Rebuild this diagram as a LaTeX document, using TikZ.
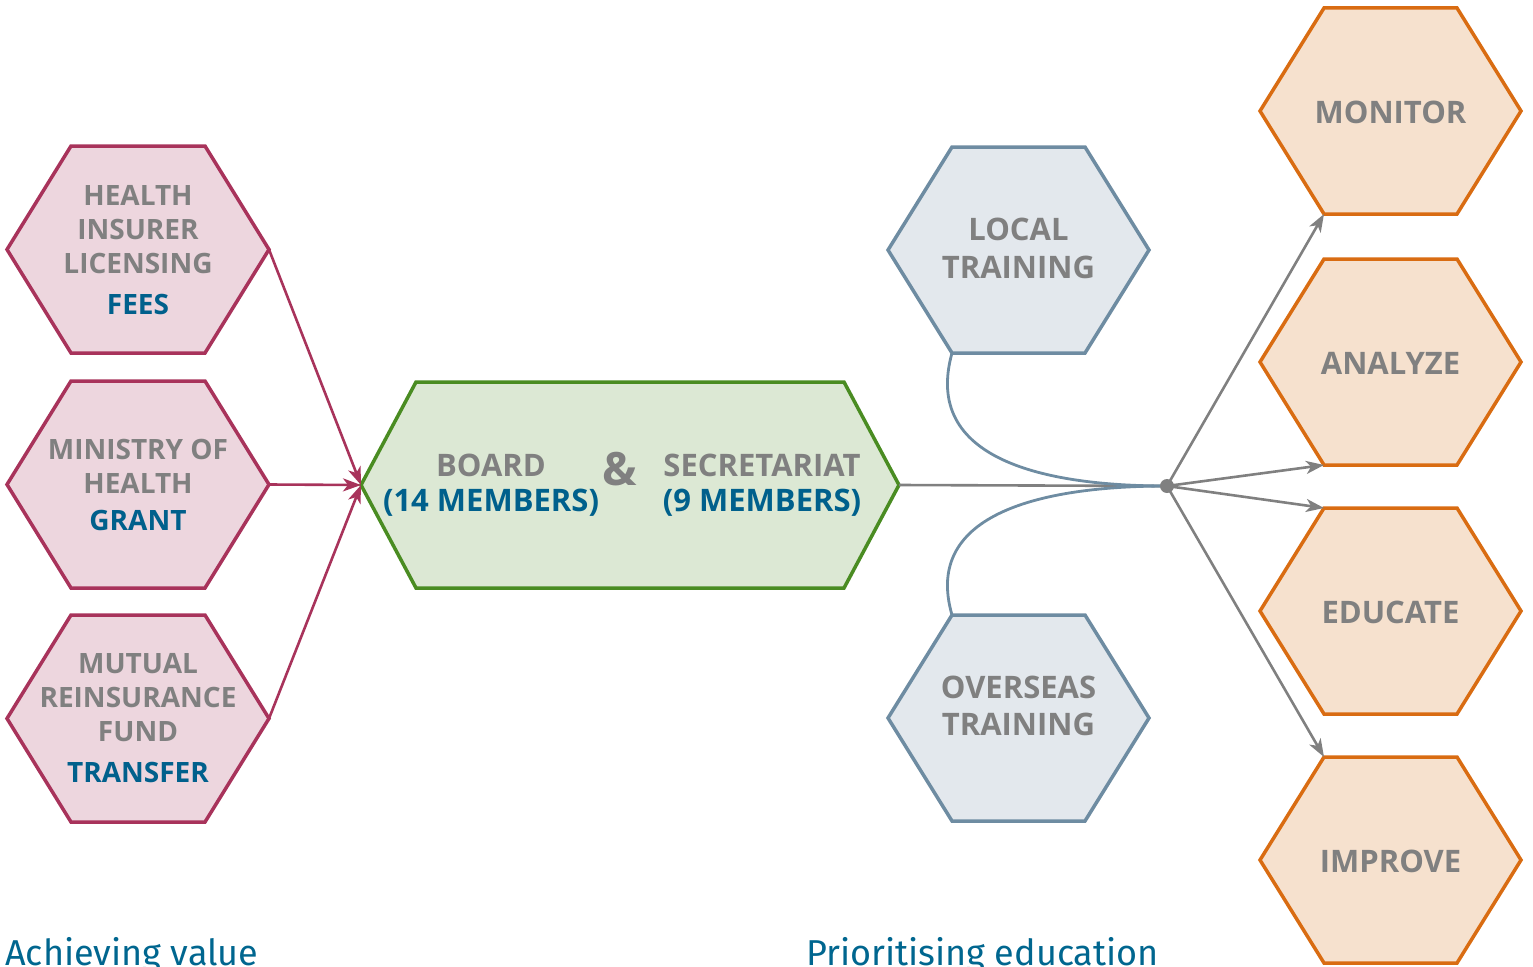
\documentclass[tikz,border=0pt]{standalone}
\usepackage{fontspec}
\setmainfont{Open Sans}
\newfontfamily\titlefont{Fira Sans}
\usetikzlibrary{arrows.meta}

\definecolor{pinkline}{HTML}{A8335B}
\definecolor{pinkfill}{HTML}{EDD6DE}
\definecolor{greenline}{HTML}{4A8C22}
\definecolor{greenfill}{HTML}{DCE8D4}
\definecolor{blueline}{HTML}{6E8CA2}
\definecolor{bluefill}{HTML}{E3E8ED}
\definecolor{orangeline}{HTML}{D96C12}
\definecolor{orangefill}{HTML}{F6E1CE}
\definecolor{txtgray}{HTML}{808080}
\definecolor{txtblue}{HTML}{00608C}
\definecolor{titleblue}{HTML}{00668F}
\definecolor{linkgray}{HTML}{808080}

% hexagon with pointed left/right ends: name, centre x, centre y,
% half width, corner offset, half height, style
\newcommand{\hexshape}[7]{%
  \coordinate (#1) at (#2,#3);
  \coordinate (#1-w)  at ({#2-#4},#3);
  \coordinate (#1-e)  at ({#2+#4},#3);
  \coordinate (#1-nw) at ({#2-#4+#5},{#3-#6});
  \coordinate (#1-ne) at ({#2+#4-#5},{#3-#6});
  \coordinate (#1-sw) at ({#2-#4+#5},{#3+#6});
  \coordinate (#1-se) at ({#2+#4-#5},{#3+#6});
  \draw[#7] (#1-w) -- (#1-nw) -- (#1-ne) -- (#1-e) -- (#1-se) -- (#1-sw) -- cycle;
}

\tikzset{
  x=1pt, y=-1pt,
  hexborder/.style={line width=3.5pt, line join=miter},
  pinkhex/.style={hexborder, draw=pinkline, fill=pinkfill},
  greenhex/.style={hexborder, draw=greenline, fill=greenfill},
  bluehex/.style={hexborder, draw=blueline, fill=bluefill},
  orangehex/.style={hexborder, draw=orangeline, fill=orangefill},
  small/.style={anchor=base, inner sep=0, text=txtgray, font=\bfseries\fontsize{28}{34}\selectfont},
  smallblue/.style={small, text=txtblue},
  mid/.style={anchor=base, inner sep=0, text=txtgray, font=\bfseries\fontsize{31}{37}\selectfont},
  midblue/.style={mid, text=txtblue},
  big/.style={anchor=base, inner sep=0, text=txtgray, font=\bfseries\fontsize{31}{37}\selectfont},
  tip/.style={-{Stealth[length=18pt,width=13pt,inset=5pt]}},
  feed/.style={draw=pinkline, line width=2.6pt, tip},
  spread/.style={draw=linkgray, line width=2.6pt, tip},
  trainlink/.style={draw=blueline, line width=2.8pt},
  headline/.style={anchor=base west, inner sep=0, text=titleblue, font=\titlefont\fontsize{36}{42}\selectfont},
}

\begin{document}
\begin{tikzpicture}
\useasboundingbox (0,0) rectangle (1533,966);

% funding sources
\hexshape{fees}{138}{249.5}{131}{64}{103.5}{pinkhex}
\hexshape{grant}{138}{484.5}{131}{64}{103.5}{pinkhex}
\hexshape{transfer}{138}{718.5}{131}{64}{103.5}{pinkhex}

% governing body
\hexshape{body}{630}{485}{269}{55}{103}{greenhex}

% training
\hexshape{local}{1018.5}{250}{130.5}{64}{103}{bluehex}
\hexshape{overseas}{1018.5}{718}{130.5}{64}{103}{bluehex}

% activities
\hexshape{monitor}{1390.5}{111}{130.5}{64}{103}{orangehex}
\hexshape{analyze}{1390.5}{362}{130.5}{64}{103}{orangehex}
\hexshape{educate}{1390.5}{611}{130.5}{64}{103}{orangehex}
\hexshape{improve}{1390.5}{860}{130.5}{64}{103}{orangehex}

% hub
\coordinate (hub) at (1167,486);

% links
\draw[feed] (fees-e) -- (body-w);
\draw[feed] (grant-e) -- (body-w);
\draw[feed] (transfer-e) -- (body-w);

\draw[draw=linkgray, line width=2.6pt] (body-e) -- (hub);
\draw[trainlink] (local-sw) .. controls (922,460) and (1045,486) .. (hub);
\draw[trainlink] (overseas-nw) .. controls (922,512) and (1045,486) .. (hub);

\draw[spread] (hub) -- (monitor-sw);
\draw[spread] (hub) -- (analyze-sw);
\draw[spread] (hub) -- (educate-nw);
\draw[spread] (hub) -- (improve-nw);

\node[circle, fill=linkgray, inner sep=0, minimum size=14pt] (hubdot) at (hub) {};

% texts
\node[small] (f1) at (138,205) {HEALTH};
\node[small] (f2) at (138,239) {INSURER};
\node[small] (f3) at (138,273) {LICENSING};
\node[smallblue] (f4) at (138,314) {FEES};

\node[small] (g1) at (138,459) {MINISTRY OF};
\node[small] (g2) at (138,493) {HEALTH};
\node[smallblue] (g3) at (138,530) {GRANT};

\node[small] (t1) at (138,673) {MUTUAL};
\node[small] (t2) at (138,707) {REINSURANCE};
\node[small] (t3) at (138,741) {FUND};
\node[smallblue] (t4) at (138,782) {TRANSFER};

\node[mid] (b1) at (491,476) {BOARD};
\node[midblue] (b2) at (491,511) {(14 MEMBERS)};
\node[anchor=base, inner sep=0, text=txtgray, font=\bfseries\fontsize{46}{50}\selectfont] (amp) at (620,485) {\&};
\node[mid] (s1) at (762,476) {SECRETARIAT};
\node[midblue] (s2) at (762,511) {(9 MEMBERS)};

\node[big] (l1) at (1018.5,240) {LOCAL};
\node[big] (l2) at (1018.5,278) {TRAINING};
\node[big] (o1) at (1018.5,698) {OVERSEAS};
\node[big] (o2) at (1018.5,735) {TRAINING};

\node[big] (m1) at (1390.5,123) {MONITOR};
\node[big] (a1) at (1390.5,374) {ANALYZE};
\node[big] (e1) at (1390.5,623) {EDUCATE};
\node[big] (i1) at (1390.5,872) {IMPROVE};

\node[headline] (h1) at (5,965) {Achieving value};
\node[headline] (h2) at (806,965) {Prioritising education};
\end{tikzpicture}
\end{document}
